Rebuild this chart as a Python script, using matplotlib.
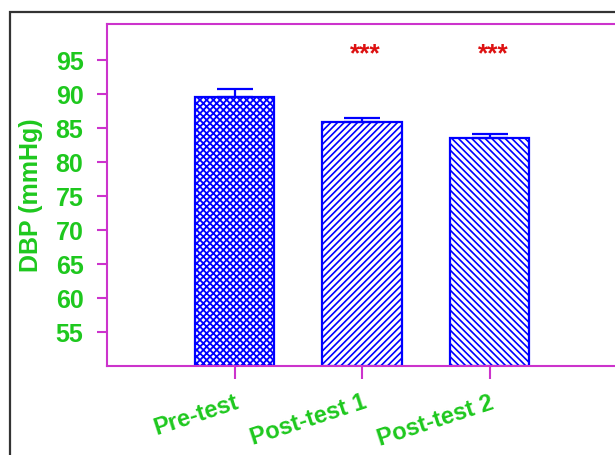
import matplotlib
matplotlib.use("Agg")
import matplotlib.pyplot as plt
from matplotlib.patches import Rectangle

# Diastolic blood pressure per test stage (mean and standard error)
groups = ["Pre-test", "Post-test 1", "Post-test 2"]
means = [89.5, 85.9, 83.5]
sems = [1.2, 0.6, 0.6]
significance = ["", "***", "***"]
y_ticks = [55, 60, 65, 70, 75, 80, 85, 90, 95]

hatches = ["xxxxx", "/////", "\\\\\\\\\\"]
hatch_widths = [1.3, 1.2, 1.2]
blue = "#0000ff"
magenta = "#cc33cc"
green = "#1ec81e"
star_red = "#dd1111"

plt.rcParams["font.family"] = ["Liberation Sans", "DejaVu Sans"]

fig = plt.figure(figsize=(6.15, 4.55), dpi=100)

# outer frame (left and top edges visible)
fig.patches.append(Rectangle((10 / 615, -0.1), 1.2, 1 - 12 / 455 + 0.1,
                             transform=fig.transFigure, fill=False,
                             edgecolor="#333333", linewidth=1.6))

ax = fig.add_axes([107 / 615, 1 - 366 / 455, (617 - 107) / 615, (366 - 24) / 455])

positions = list(range(1, len(groups) + 1))
for pos, m, s, h, hw in zip(positions, means, sems, hatches, hatch_widths):
    with plt.rc_context({"hatch.linewidth": hw}):
        bars = ax.bar(pos, m - 50, bottom=50, width=0.62, facecolor="white",
                      edgecolor=blue, hatch=h, linewidth=1.6, zorder=2)
    for b in bars:
        if hasattr(b, "set_hatch_linewidth"):
            b.set_hatch_linewidth(hw)
    ax.errorbar(pos, m, yerr=[[0], [s]], fmt="none", ecolor=blue,
                elinewidth=1.6, capsize=13, capthick=1.6, zorder=3)

for pos, txt in zip(positions, significance):
    if txt:
        ax.text(pos + 0.03, 95.8, txt, ha="center", va="center",
                color=star_red, fontsize=19, fontweight="bold")

ax.set_xlim(0, 4)
ax.set_ylim(50, 100.3)
ax.set_xticks(positions)
ax.set_xticklabels(groups, rotation=18, ha="right", rotation_mode="anchor",
                   fontsize=17, fontweight="bold", color=green)
ax.set_yticks(y_ticks)
ax.set_yticklabels([str(v) for v in y_ticks], fontsize=18,
                   fontweight="bold", color=green)
ax.set_ylabel("DBP (mmHg)", fontsize=18, fontweight="bold", color=green,
              labelpad=9)

for sp in ax.spines.values():
    sp.set_color(magenta)
    sp.set_linewidth(1.5)
ax.tick_params(axis="y", direction="out", length=7, width=1.5,
               color=magenta, pad=10)
ax.tick_params(axis="x", direction="out", length=9, width=1.5,
               color=magenta, pad=9)

fig.savefig("out.png", dpi=100)
